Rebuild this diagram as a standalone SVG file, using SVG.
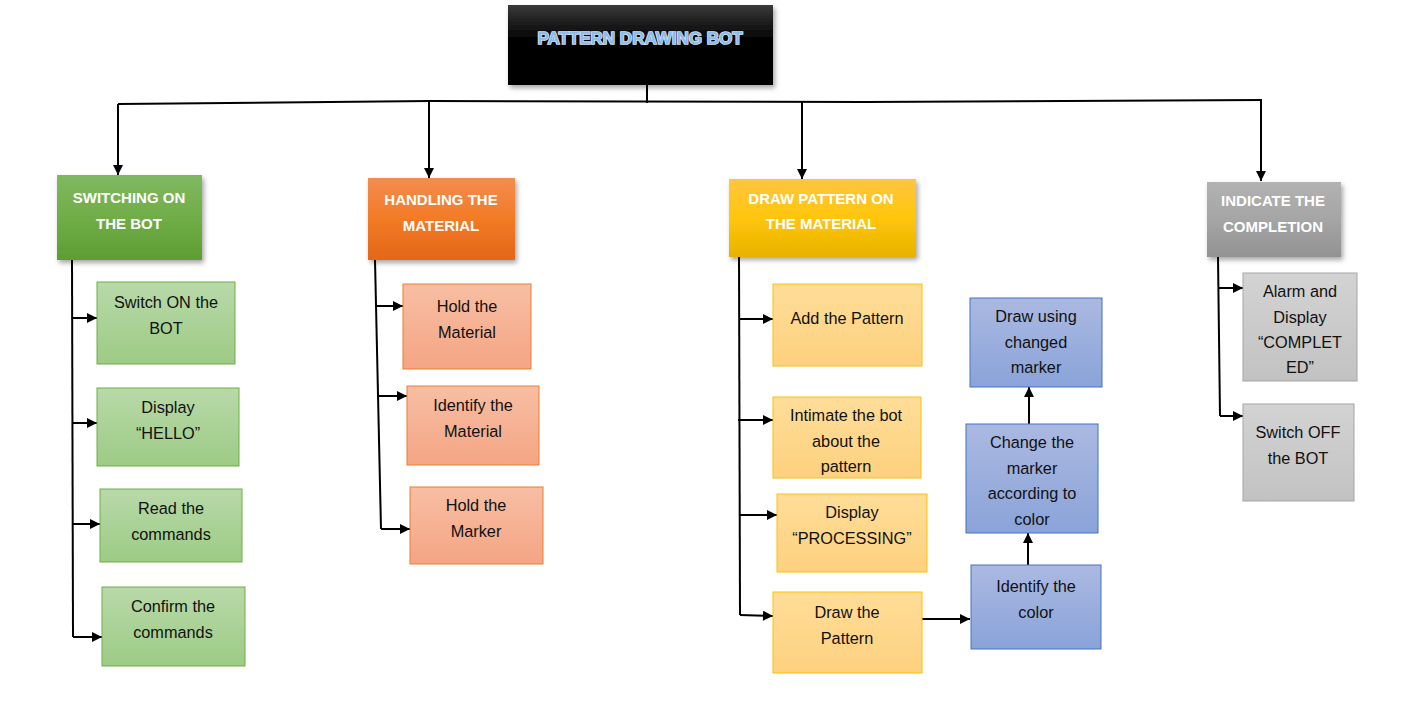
<svg xmlns="http://www.w3.org/2000/svg" width="1404" height="701" viewBox="0 0 1404 701">
<defs>
<linearGradient id="gBlack" x1="0" y1="0" x2="0" y2="1"><stop offset="0" stop-color="#3a3a3a"/><stop offset="0.45" stop-color="#000"/><stop offset="1" stop-color="#000"/></linearGradient>
<linearGradient id="gGreen" x1="0" y1="0" x2="0" y2="1"><stop offset="0" stop-color="#80b862"/><stop offset="0.5" stop-color="#70ad47"/><stop offset="1" stop-color="#5f9d34"/></linearGradient>
<linearGradient id="gOrange" x1="0" y1="0" x2="0" y2="1"><stop offset="0" stop-color="#f28d50"/><stop offset="0.5" stop-color="#f37a25"/><stop offset="1" stop-color="#e3661a"/></linearGradient>
<linearGradient id="gYellow" x1="0" y1="0" x2="0" y2="1"><stop offset="0" stop-color="#ffc540"/><stop offset="0.5" stop-color="#ffc60a"/><stop offset="1" stop-color="#e8b200"/></linearGradient>
<linearGradient id="gGrey" x1="0" y1="0" x2="0" y2="1"><stop offset="0" stop-color="#b2b2b2"/><stop offset="0.5" stop-color="#a5a5a5"/><stop offset="1" stop-color="#929292"/></linearGradient>
<linearGradient id="gLGreen" x1="0" y1="0" x2="0" y2="1"><stop offset="0" stop-color="#b8d9a9"/><stop offset="1" stop-color="#9dcb85"/></linearGradient>
<linearGradient id="gLOrange" x1="0" y1="0" x2="0" y2="1"><stop offset="0" stop-color="#f8bea3"/><stop offset="1" stop-color="#f4a584"/></linearGradient>
<linearGradient id="gLYellow" x1="0" y1="0" x2="0" y2="1"><stop offset="0" stop-color="#ffdd98"/><stop offset="1" stop-color="#fdd17f"/></linearGradient>
<linearGradient id="gLBlue" x1="0" y1="0" x2="0" y2="1"><stop offset="0" stop-color="#abb9e1"/><stop offset="1" stop-color="#8aa3d9"/></linearGradient>
<linearGradient id="gLGrey" x1="0" y1="0" x2="0" y2="1"><stop offset="0" stop-color="#d3d3d3"/><stop offset="1" stop-color="#c2c2c2"/></linearGradient>
<filter id="shadow" x="-10%" y="-10%" width="125%" height="130%"><feDropShadow dx="2" dy="3" stdDeviation="2.5" flood-color="#000" flood-opacity="0.35"/></filter>
<marker id="arr" viewBox="0 0 10 10" refX="10" refY="5" markerWidth="11" markerHeight="10" markerUnits="userSpaceOnUse" orient="auto"><path d="M0,0 L10,5 L0,10 z" fill="#000"/></marker>
</defs>
<style>
.hdr{font-family:"Liberation Sans",Arial,sans-serif;font-weight:bold;font-size:15px;fill:#fff;text-anchor:middle}
.t{font-family:"Liberation Sans",Arial,sans-serif;font-size:16.3px;fill:#111;text-anchor:middle}
.ttl{font-family:"Liberation Sans",Arial,sans-serif;font-weight:bold;font-size:17px;fill:#8dbbea;stroke:#d6e6f8;stroke-width:1.6;paint-order:stroke;text-anchor:middle}
.c{fill:none;stroke:#000;stroke-width:2}
.ca{fill:none;stroke:#000;stroke-width:2;marker-end:url(#arr)}
.sg{fill:url(#gLGreen);stroke:#70ad47;stroke-width:1}
.so{fill:url(#gLOrange);stroke:#ed7d31;stroke-width:1}
.sy{fill:url(#gLYellow);stroke:#ffc000;stroke-width:1}
.sb{fill:url(#gLBlue);stroke:#4472c4;stroke-width:1}
.sgr{fill:url(#gLGrey);stroke:#a5a5a5;stroke-width:1}
</style>
<rect width="1404" height="701" fill="#fff"/>

<g id="connectors">
<path class="c" d="M647,85 L647,103"/>
<path class="c" d="M118,104 L430,101 L865,102 L1262,100"/>
<path class="ca" d="M118,104 L118,175"/>
<path class="ca" d="M429,101 L429,178"/>
<path class="ca" d="M802,102 L802,179"/>
<path class="ca" d="M1261,100 L1261,181"/>
<path class="c" d="M72,260 L73,637"/>
<path class="ca" d="M72,318 L97,318"/>
<path class="ca" d="M72,423 L97,423"/>
<path class="ca" d="M73,524 L100,524"/>
<path class="ca" d="M73,637 L102,637"/>
<path class="c" d="M375,260 L381,529"/>
<path class="ca" d="M377,306 L403,306"/>
<path class="ca" d="M379,396 L407,396"/>
<path class="ca" d="M381,529 L410,529"/>
<path class="c" d="M739,257 L740,615"/>
<path class="ca" d="M740,319 L773,319"/>
<path class="ca" d="M738,420 L773,420"/>
<path class="ca" d="M740,515 L777,515"/>
<path class="ca" d="M740,615 L773,616"/>
<path class="ca" d="M922,619 L970,619"/>
<path class="ca" d="M1028,565 L1028,533"/>
<path class="ca" d="M1029,424 L1029,387"/>
<path class="c" d="M1218,257 L1220,416"/>
<path class="ca" d="M1219,288 L1243,288"/>
<path class="ca" d="M1220,416 L1243,416"/>
</g>

<g id="root">
<rect x="508" y="5" width="265" height="80" fill="url(#gBlack)" filter="url(#shadow)"/>
<text class="ttl" x="640" y="44">PATTERN DRAWING BOT</text>
</g>

<g id="cat-switching">
<rect x="57" y="175" width="145" height="85" fill="url(#gGreen)" filter="url(#shadow)"/>
<text class="hdr" x="129" y="203">SWITCHING ON</text>
<text class="hdr" x="129" y="229">THE BOT</text>
</g>
<g id="cat-handling">
<rect x="368" y="178" width="147" height="82" fill="url(#gOrange)" filter="url(#shadow)"/>
<text class="hdr" x="441" y="205">HANDLING THE</text>
<text class="hdr" x="441" y="231">MATERIAL</text>
</g>
<g id="cat-draw">
<rect x="729" y="179" width="187" height="78" fill="url(#gYellow)" filter="url(#shadow)"/>
<text class="hdr" x="821" y="204">DRAW PATTERN ON</text>
<text class="hdr" x="821" y="229">THE MATERIAL</text>
</g>
<g id="cat-indicate">
<rect x="1207" y="182" width="134" height="75" fill="url(#gGrey)" filter="url(#shadow)"/>
<text class="hdr" x="1273" y="206">INDICATE THE</text>
<text class="hdr" x="1273" y="232">COMPLETION</text>
</g>

<g id="g1"><rect class="sg" x="97" y="282" width="138" height="82"/><text class="t" x="166" y="308">Switch ON the</text><text class="t" x="166" y="334">BOT</text></g>
<g id="g2"><rect class="sg" x="97" y="388" width="142" height="78"/><text class="t" x="168" y="413">Display</text><text class="t" x="168" y="439">“HELLO”</text></g>
<g id="g3"><rect class="sg" x="100" y="489" width="142" height="73"/><text class="t" x="171" y="514">Read the</text><text class="t" x="171" y="540">commands</text></g>
<g id="g4"><rect class="sg" x="102" y="587" width="143" height="79"/><text class="t" x="173" y="612">Confirm the</text><text class="t" x="173" y="638">commands</text></g>

<g id="o1"><rect class="so" x="403" y="284" width="128" height="85"/><text class="t" x="467" y="312">Hold the</text><text class="t" x="467" y="338">Material</text></g>
<g id="o2"><rect class="so" x="407" y="386" width="132" height="79"/><text class="t" x="473" y="411">Identify the</text><text class="t" x="473" y="437">Material</text></g>
<g id="o3"><rect class="so" x="410" y="487" width="133" height="77"/><text class="t" x="476" y="511">Hold the</text><text class="t" x="476" y="537">Marker</text></g>

<g id="y1"><rect class="sy" x="773" y="284" width="149" height="82"/><text class="t" x="847" y="324">Add the Pattern</text></g>
<g id="y2"><rect class="sy" x="773" y="397" width="148" height="81"/><text class="t" x="846" y="421">Intimate the bot</text><text class="t" x="846" y="447">about the</text><clipPath id="cy2"><rect x="773" y="397" width="148" height="79"/></clipPath><text class="t" x="846" y="472" clip-path="url(#cy2)">pattern</text></g>
<g id="y3"><rect class="sy" x="777" y="494" width="150" height="78"/><text class="t" x="852" y="518">Display</text><text class="t" x="852" y="544">“PROCESSING”</text></g>
<g id="y4"><rect class="sy" x="773" y="592" width="149" height="81"/><text class="t" x="847" y="618">Draw the</text><text class="t" x="847" y="644">Pattern</text></g>

<g id="b1"><rect class="sb" x="970" y="298" width="132" height="89"/><text class="t" x="1036" y="322">Draw using</text><text class="t" x="1036" y="348">changed</text><text class="t" x="1036" y="373">marker</text></g>
<g id="b2"><rect class="sb" x="966" y="424" width="132" height="109"/><text class="t" x="1032" y="448">Change the</text><text class="t" x="1032" y="474">marker</text><text class="t" x="1032" y="499">according to</text><text class="t" x="1032" y="525">color</text></g>
<g id="b3"><rect class="sb" x="971" y="565" width="130" height="84"/><text class="t" x="1036" y="592">Identify the</text><text class="t" x="1036" y="618">color</text></g>

<g id="gr1"><rect class="sgr" x="1243" y="273" width="114" height="108"/><text class="t" x="1300" y="297">Alarm and</text><text class="t" x="1300" y="323">Display</text><text class="t" x="1300" y="348">“COMPLET</text><text class="t" x="1300" y="373">ED”</text></g>
<g id="gr2"><rect class="sgr" x="1243" y="404" width="111" height="97"/><text class="t" x="1298" y="438">Switch OFF</text><text class="t" x="1298" y="464">the BOT</text></g>
</svg>
